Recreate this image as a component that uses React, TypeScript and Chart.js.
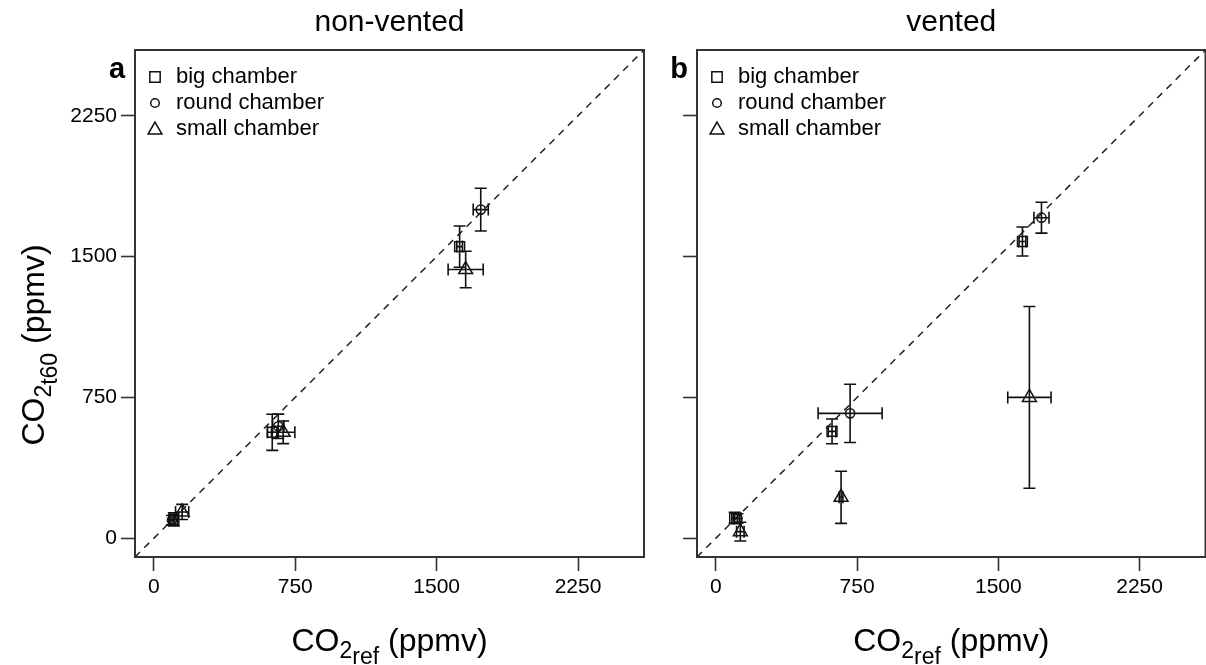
import React, { useEffect, useRef } from 'react';
import { Chart, registerables } from 'chart.js';

Chart.register(...registerables);

const FONT = '"Liberation Sans", Arial, Helvetica, sans-serif';

const CHAMBERS = ['big chamber', 'round chamber', 'small chamber'];
const POINT_STYLES = ['rect', 'circle', 'triangle'];
const POINT_RADII = [7, 4.6, 8];
const AXIS_TICKS = [0, 750, 1500, 2250];
const AXIS_MIN = -100;
const AXIS_MAX = 2600;
const PANEL_TITLES = ['non-vented', 'vented'];
const PANEL_LETTERS = ['a', 'b'];

// non-vented (panel a)
const nvBigX = [106, 628, 1622];
const nvBigY = [101, 564, 1553];
const nvBigXErr = [20, 25, 15];
const nvBigYErr = [35, 96, 110];
const nvRoundX = [96, 660, 1734];
const nvRoundY = [96, 596, 1750];
const nvRoundXErr = [15, 30, 40];
const nvRoundYErr = [25, 65, 114];
const nvSmallX = [150, 686, 1654];
const nvSmallY = [140, 564, 1431];
const nvSmallXErr = [35, 62, 93];
const nvSmallYErr = [40, 60, 97];

// vented (panel b)
const vBigX = [100, 617, 1628];
const vBigY = [108, 569, 1580];
const vBigXErr = [15, 20, 18];
const vBigYErr = [30, 66, 77];
const vRoundX = [115, 713, 1729];
const vRoundY = [105, 665, 1707];
const vRoundXErr = [20, 170, 40];
const vRoundYErr = [25, 155, 82];
const vSmallX = [130, 665, 1665];
const vSmallY = [35, 218, 750];
const vSmallXErr = [20, 10, 115];
const vSmallYErr = [50, 139, 484];

const DIAG = [AXIS_MIN, AXIS_MAX];

type Series = { x: number[]; y: number[]; xe: number[]; ye: number[] };

const PANELS: Series[][] = [
  [
    { x: nvBigX, y: nvBigY, xe: nvBigXErr, ye: nvBigYErr },
    { x: nvRoundX, y: nvRoundY, xe: nvRoundXErr, ye: nvRoundYErr },
    { x: nvSmallX, y: nvSmallY, xe: nvSmallXErr, ye: nvSmallYErr },
  ],
  [
    { x: vBigX, y: vBigY, xe: vBigXErr, ye: vBigYErr },
    { x: vRoundX, y: vRoundY, xe: vRoundXErr, ye: vRoundYErr },
    { x: vSmallX, y: vSmallY, xe: vSmallXErr, ye: vSmallYErr },
  ],
];

const INK = '#111';

function drawMarker(ctx: CanvasRenderingContext2D, style: string, x: number, y: number, r: number) {
  ctx.beginPath();
  if (style === 'rect') {
    const s = Math.SQRT1_2 * r;
    ctx.rect(x - s, y - s, 2 * s, 2 * s);
  } else if (style === 'circle') {
    ctx.arc(x, y, r, 0, Math.PI * 2);
  } else {
    let rad = 0;
    ctx.moveTo(x + Math.sin(rad) * r, y - Math.cos(rad) * r);
    rad += (2 * Math.PI) / 3;
    ctx.lineTo(x + Math.sin(rad) * r, y - Math.cos(rad) * r);
    rad += (2 * Math.PI) / 3;
    ctx.lineTo(x + Math.sin(rad) * r, y - Math.cos(rad) * r);
    ctx.closePath();
  }
  ctx.stroke();
}

type Part = { text: string; size: number; dy: number };

function drawRich(ctx: CanvasRenderingContext2D, parts: Part[], cx: number, cy: number, rotated: boolean) {
  ctx.save();
  ctx.translate(cx, cy);
  if (rotated) ctx.rotate(-Math.PI / 2);
  let total = 0;
  const widths = parts.map((p) => {
    ctx.font = `${p.size}px ${FONT}`;
    const w = ctx.measureText(p.text).width;
    total += w;
    return w;
  });
  let x = -total / 2;
  ctx.textAlign = 'left';
  ctx.textBaseline = 'alphabetic';
  ctx.fillStyle = '#000';
  parts.forEach((p, i) => {
    ctx.font = `${p.size}px ${FONT}`;
    ctx.fillText(p.text, x, p.dy);
    x += widths[i];
  });
  ctx.restore();
}

const errorBarPlugin = {
  id: 'errorBars',
  afterDatasetsDraw(chart: any) {
    const ctx: CanvasRenderingContext2D = chart.ctx;
    const xs = chart.scales.x;
    const ys = chart.scales.y;
    const cap = 6;
    ctx.save();
    ctx.strokeStyle = INK;
    ctx.lineWidth = 1.6;
    chart.data.datasets.forEach((ds: any) => {
      if (!ds.errX) return;
      ds.data.forEach((p: any, i: number) => {
        const px = xs.getPixelForValue(p.x);
        const py = ys.getPixelForValue(p.y);
        const x0 = xs.getPixelForValue(p.x - ds.errX[i]);
        const x1 = xs.getPixelForValue(p.x + ds.errX[i]);
        const y0 = ys.getPixelForValue(p.y - ds.errY[i]);
        const y1 = ys.getPixelForValue(p.y + ds.errY[i]);
        ctx.beginPath();
        ctx.moveTo(x0, py);
        ctx.lineTo(x1, py);
        ctx.moveTo(x0, py - cap);
        ctx.lineTo(x0, py + cap);
        ctx.moveTo(x1, py - cap);
        ctx.lineTo(x1, py + cap);
        ctx.moveTo(px, y0);
        ctx.lineTo(px, y1);
        ctx.moveTo(px - cap, y0);
        ctx.lineTo(px + cap, y0);
        ctx.moveTo(px - cap, y1);
        ctx.lineTo(px + cap, y1);
        ctx.stroke();
      });
    });
    ctx.restore();
  },
};

const decorPlugin = {
  id: 'decor',
  afterDraw(chart: any) {
    const o = chart.options.plugins.decor;
    const ctx: CanvasRenderingContext2D = chart.ctx;
    const a = chart.chartArea;
    ctx.save();
    // box
    ctx.strokeStyle = '#333';
    ctx.lineWidth = 2;
    ctx.strokeRect(a.left, a.top, a.right - a.left, a.bottom - a.top);
    // title
    ctx.fillStyle = '#000';
    ctx.font = `30px ${FONT}`;
    ctx.textAlign = 'center';
    ctx.textBaseline = 'alphabetic';
    ctx.fillText(o.title, (a.left + a.right) / 2, 31);
    // panel letter
    ctx.font = `bold 29px ${FONT}`;
    ctx.fillText(o.letter, a.left - 18, a.top + 28);
    // legend
    ctx.strokeStyle = INK;
    ctx.lineWidth = 1.5;
    ctx.font = `22px ${FONT}`;
    ctx.textAlign = 'left';
    ctx.textBaseline = 'middle';
    CHAMBERS.forEach((name, i) => {
      const y = a.top + 27 + i * 26;
      const r = i === 1 ? 4.3 : i === 0 ? 7.3 : 8;
      drawMarker(ctx, POINT_STYLES[i], a.left + 20, y + (i === 2 ? 1 : 0), r);
      ctx.fillText(name, a.left + 41, y);
    });
    // x axis title
    drawRich(
      ctx,
      [
        { text: 'CO', size: 32, dy: 0 },
        { text: '2', size: 23, dy: 7 },
        { text: 'ref', size: 23, dy: 13 },
        { text: ' (ppmv)', size: 32, dy: 0 },
      ],
      (a.left + a.right) / 2,
      651,
      false
    );
    if (o.yTitle) {
      drawRich(
        ctx,
        [
          { text: 'CO', size: 32, dy: 0 },
          { text: '2', size: 23, dy: 7 },
          { text: 't60', size: 23, dy: 13 },
          { text: ' (ppmv)', size: 32, dy: 0 },
        ],
        44,
        345,
        true
      );
    }
    ctx.restore();
  },
};

function makeConfig(panel: number): any {
  const series = PANELS[panel];
  const datasets: any[] = series.map((s, i) => ({
    label: CHAMBERS[i],
    data: s.x.map((xv, k) => ({ x: xv, y: s.y[k] })),
    errX: s.xe,
    errY: s.ye,
    pointStyle: POINT_STYLES[i],
    pointRadius: POINT_RADII[i],
    pointBorderWidth: 1.5,
    pointBorderColor: INK,
    pointBackgroundColor: 'rgba(0,0,0,0)',
    showLine: false,
  }));
  datasets.unshift({
    label: '1:1',
    data: DIAG.map((v) => ({ x: v, y: v })),
    showLine: true,
    borderColor: '#222',
    borderWidth: 1.5,
    borderDash: [7, 6],
    pointRadius: 0,
  });
  const isA = panel === 0;
  const tickFont = { family: FONT, size: 21 };
  return {
    type: 'scatter',
    data: { datasets },
    options: {
      animation: false,
      responsive: false,
      devicePixelRatio: 1,
      layout: { padding: { left: 0, top: 50, right: isA ? 16 : 1, bottom: 0 } },
      plugins: {
        legend: { display: false },
        tooltip: { enabled: false },
        decor: { title: PANEL_TITLES[panel], letter: PANEL_LETTERS[panel], yTitle: isA },
      },
      scales: {
        x: {
          type: 'linear',
          min: AXIS_MIN,
          max: AXIS_MAX,
          afterBuildTicks: (s: any) => {
            s.ticks = AXIS_TICKS.map((v) => ({ value: v }));
          },
          afterFit: (s: any) => {
            s.height = 108;
            s.paddingLeft = 0;
            s.paddingRight = 0;
            s.paddingTop = 0;
            s.paddingBottom = 0;
          },
          ticks: { font: tickFont, color: '#000', padding: 4, autoSkip: false, maxRotation: 0, callback: (v: any) => String(v) },
          grid: { display: true, drawOnChartArea: false, drawTicks: true, tickLength: 14, tickWidth: 1.6, tickColor: '#333' },
          border: { display: false },
        },
        y: {
          type: 'linear',
          min: AXIS_MIN,
          max: AXIS_MAX,
          afterBuildTicks: (s: any) => {
            s.ticks = AXIS_TICKS.map((v) => ({ value: v }));
          },
          afterFit: (s: any) => {
            s.width = isA ? 135 : 37;
            s.paddingLeft = 0;
            s.paddingRight = 0;
            s.paddingTop = 0;
            s.paddingBottom = 0;
          },
          ticks: {
            font: tickFont,
            color: '#000',
            padding: 4,
            autoSkip: false,
            callback: (v: any) => (isA ? String(v) : ''),
          },
          grid: { display: true, drawOnChartArea: false, drawTicks: true, tickLength: 14, tickWidth: 1.6, tickColor: '#333' },
          border: { display: false },
        },
      },
    },
    plugins: [errorBarPlugin, decorPlugin],
  };
}

function Panel({ panel, left, width }: { panel: number; left: number; width: number }) {
  const ref = useRef<HTMLCanvasElement>(null);
  useEffect(() => {
    if (!ref.current) return;
    const chart = new Chart(ref.current, makeConfig(panel));
    return () => chart.destroy();
  }, [panel]);
  return (
    <div style={{ position: 'absolute', left, top: 0, width, height: 665 }}>
      <canvas ref={ref} width={width} height={665} style={{ display: 'block', width, height: 665 }} />
    </div>
  );
}

export default function App() {
  return (
    <div
      style={{
        position: 'fixed',
        left: 0,
        top: 0,
        width: 1206,
        height: 665,
        overflow: 'hidden',
        background: '#fff',
      }}
    >
      <Panel panel={0} left={0} width={660} />
      <Panel panel={1} left={660} width={555} />
    </div>
  );
}
